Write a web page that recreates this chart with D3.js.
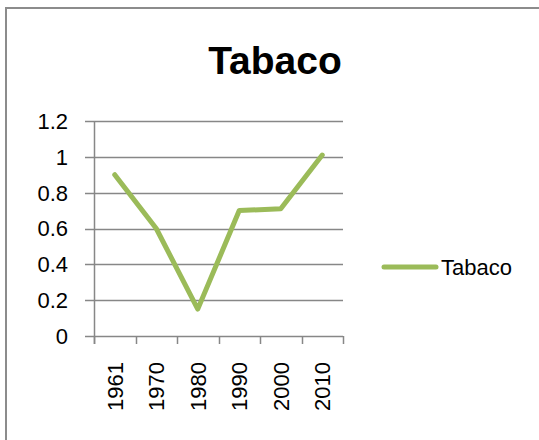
<!DOCTYPE html>
<html>
<head>
<meta charset="utf-8">
<script src="https://cdn.jsdelivr.net/npm/d3@7"></script>
<style>
  body { margin: 0; background: #fff; }
  svg { display: block; }
</style>
</head>
<body>
<div id="chart"></div>
<script>
// data
var years = ["1961", "1970", "1980", "1990", "2000", "2010"];
var tabaco = [0.9, 0.6, 0.15, 0.7, 0.71, 1.01];
var yTicks = [0, 0.2, 0.4, 0.6, 0.8, 1, 1.2];
var seriesName = "Tabaco";

var width = 539, height = 440;
var margin = { top: 121, right: 196, bottom: 104, left: 94 };
var lineColour = "#9bbb59";
var gridColour = "#878787";
var font = "Liberation Sans, Arial, sans-serif";

var svg = d3.select("#chart").append("svg")
    .attr("width", width)
    .attr("height", height);

// outer chart frame
svg.append("rect")
    .attr("x", 6)
    .attr("y", 8)
    .attr("width", 560)
    .attr("height", 460)
    .attr("fill", "#fff")
    .attr("stroke", "#8c8c8c")
    .attr("stroke-width", 2);

svg.append("text")
    .attr("x", 275)
    .attr("y", 74)
    .attr("text-anchor", "middle")
    .attr("font-family", font)
    .attr("font-weight", "bold")
    .attr("font-size", 39)
    .attr("fill", "#000")
    .text(seriesName);

var plotW = width - margin.left - margin.right;
var plotH = height - margin.top - margin.bottom;

var g = svg.append("g")
    .attr("transform", "translate(" + margin.left + "," + margin.top + ")");

var x = d3.scaleBand()
    .domain(years)
    .range([0, plotW]);

var y = d3.scaleLinear()
    .domain([0, 1.2])
    .range([plotH, 0]);

// horizontal gridlines, with the little stub left of the axis
g.append("g")
    .selectAll("line")
    .data(yTicks)
    .enter()
    .append("line")
    .attr("x1", -9)
    .attr("x2", plotW)
    .attr("y1", function (d) { return Math.round(y(d)) + 0.5; })
    .attr("y2", function (d) { return Math.round(y(d)) + 0.5; })
    .attr("stroke", gridColour)
    .attr("stroke-width", 1.5);

// y axis line
g.append("line")
    .attr("x1", 0.5).attr("x2", 0.5)
    .attr("y1", 0).attr("y2", plotH + 8)
    .attr("stroke", gridColour)
    .attr("stroke-width", 1.5);

// y labels
g.append("g")
    .selectAll("text")
    .data(yTicks)
    .enter()
    .append("text")
    .attr("x", -26)
    .attr("y", function (d) { return y(d); })
    .attr("dy", "0.36em")
    .attr("text-anchor", "end")
    .attr("font-family", font)
    .attr("font-size", 22)
    .attr("fill", "#000")
    .text(function (d) { return d3.format("~g")(d); });

// x ticks between categories
var xEdges = years.map(function (d) { return x(d); }).concat([plotW]);
g.append("g")
    .selectAll("line")
    .data(xEdges)
    .enter()
    .append("line")
    .attr("x1", function (d) { return Math.round(d) + 0.5; })
    .attr("x2", function (d) { return Math.round(d) + 0.5; })
    .attr("y1", plotH)
    .attr("y2", plotH + 8)
    .attr("stroke", gridColour)
    .attr("stroke-width", 1.5);

// rotated x labels
g.append("g")
    .selectAll("text")
    .data(years)
    .enter()
    .append("text")
    .attr("transform", function (d) {
        return "translate(" + (x(d) + x.bandwidth() / 2) + "," + (plotH + 26) + ") rotate(-90)";
    })
    .attr("dy", "0.36em")
    .attr("text-anchor", "end")
    .attr("font-family", font)
    .attr("font-size", 22)
    .attr("fill", "#000")
    .text(function (d) { return d; });

var line = d3.line()
    .x(function (d, i) { return x(years[i]) + x.bandwidth() / 2; })
    .y(function (d) { return y(d); });

g.append("path")
    .datum(tabaco)
    .attr("d", line)
    .attr("fill", "none")
    .attr("stroke", lineColour)
    .attr("stroke-width", 5)
    .attr("stroke-linejoin", "round")
    .attr("stroke-linecap", "round");

// legend
var legend = svg.append("g")
    .attr("transform", "translate(384,267)");

legend.append("line")
    .attr("x1", 0).attr("x2", 52)
    .attr("y1", 0).attr("y2", 0)
    .attr("stroke", lineColour)
    .attr("stroke-width", 5)
    .attr("stroke-linecap", "round");

legend.append("text")
    .attr("x", 57)
    .attr("y", 0)
    .attr("dy", "0.36em")
    .attr("font-family", font)
    .attr("font-size", 22)
    .attr("fill", "#000")
    .text(seriesName);
</script>
</body>
</html>
